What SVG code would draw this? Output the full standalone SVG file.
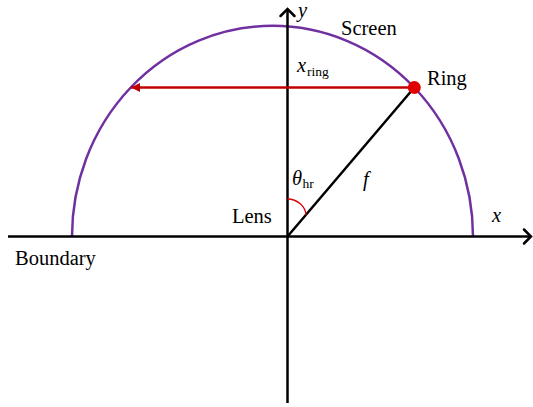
<svg xmlns="http://www.w3.org/2000/svg" width="533" height="407" viewBox="0 0 533 407">
<defs>
<style>
text{font-family:'Liberation Serif',serif;font-size:20.5px;fill:#000}
.i{font-style:italic}
.s{font-size:13.5px}
.axis{stroke:#000;stroke-width:2.5;fill:none}
</style>
<marker id="ah" markerUnits="userSpaceOnUse" markerWidth="14" markerHeight="16" refX="8" refY="8" orient="auto" overflow="visible">
<path d="M1,1 L8,8 L1,15" fill="none" stroke="#000" stroke-width="2.5" stroke-linecap="round" stroke-linejoin="miter"/>
</marker>
<marker id="rh" markerUnits="userSpaceOnUse" markerWidth="10" markerHeight="10" refX="9" refY="5" orient="auto" overflow="visible">
<path d="M0,0.5 L9,5 L0,9.5 Z" fill="#C00000"/>
</marker>
</defs>
<rect width="533" height="407" fill="#fff"/>
<g id="screen">
<path d="M72,236.5 A200.5,210.7 0 0 1 473,236.5" fill="none" stroke="#7030A0" stroke-width="2.5"/>
</g>
<g id="connectors">
<line class="axis" x1="8" y1="236.5" x2="531" y2="236.5" marker-end="url(#ah)"/>
<line class="axis" x1="287.5" y1="403" x2="287.5" y2="9" marker-end="url(#ah)"/>
<line x1="287.5" y1="236.5" x2="414.3" y2="87.5" stroke="#000" stroke-width="2.5"/>
<line x1="414" y1="87.5" x2="131" y2="87.5" stroke="#C00000" stroke-width="2.5" marker-end="url(#rh)"/>
<path d="M287.5,199 A19,17 0 0 1 306,215" fill="none" stroke="#E00000" stroke-width="1.3"/>
</g>
<g id="ring">
<circle cx="414.3" cy="87.5" r="6.5" fill="#E00000"/>
<text x="427" y="85" font-family="Liberation Serif, serif">Ring</text>
</g>
<g id="labels" font-family="Liberation Serif, serif">
<text class="i" x="298" y="17">y</text>
<text x="341" y="35">Screen</text>
<text class="i" x="297" y="71.5">x</text>
<text class="s" x="307" y="75.5">ring</text>
<text class="i" x="292" y="185">θ</text>
<text class="s" x="302.5" y="188">hr</text>
<text class="i" x="363" y="186">f</text>
<text x="232" y="223">Lens</text>
<text class="i" x="492" y="222">x</text>
<text x="15" y="265">Boundary</text>
</g>
</svg>
